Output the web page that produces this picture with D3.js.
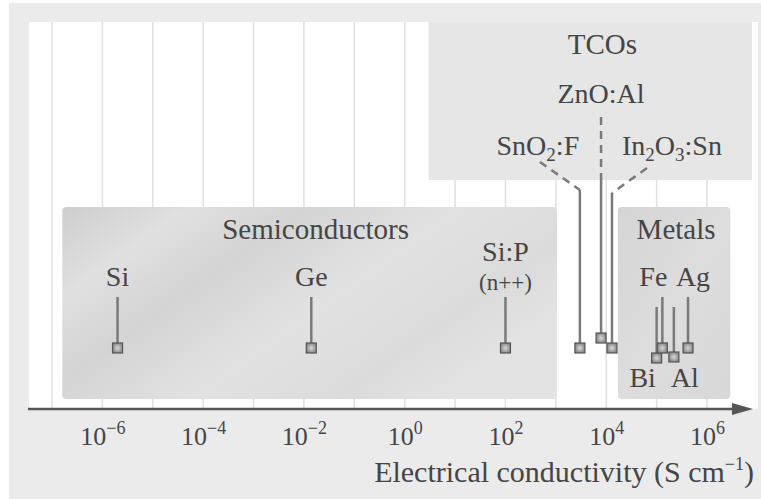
<!DOCTYPE html>
<html>
<head>
<meta charset="utf-8">
<script src="https://cdn.jsdelivr.net/npm/d3@7"></script>
<style>
  body { margin: 0; background: #fff; }
  text { font-family: "Liberation Serif", "Times New Roman", serif; fill: #454545; }
</style>
</head>
<body>
<div class="chart"></div>
<script>
////////////////////////////////// data

// materials and their conductivity (S/cm)
var materials = ["Si", "Ge", "Si:P", "SnO_2:F", "ZnO:Al", "In_2O_3:Sn", "Bi", "Fe", "Al", "Ag"];
var conductivity = [2.0e-6, 1.4e-2, 1.0e2, 3.0e3, 7.9e3, 1.3e4, 1.0e5, 1.3e5, 2.2e5, 4.2e5];

// shaded material classes, from / to conductivity
var groups = ["Semiconductors", "TCOs", "Metals"];
var groupFrom = [1.6e-7, 3.0, 1.7e4];
var groupTo = [1.05e3, 8.0e6, 2.9e6];

// axis
var tickValues = [1e-6, 1e-4, 1e-2, 1e0, 1e2, 1e4, 1e6];
var tickExponents = ["\u22126", "\u22124", "\u22122", "0", "2", "4", "6"];
var gridValues = [1e-7, 1e-6, 1e-5, 1e-4, 1e-3, 1e-2, 1e-1, 1e0, 1e1, 1e2, 1e3, 1e4, 1e5, 1e6];
var axisTitle = "Electrical conductivity (S cm";
var axisTitleExp = "\u22121";

////////////////////////////////// layout (not data)

var W = 761, H = 499;
var frame = {left: 9, top: 3};
var plot = {left: 29, top: 22, right: 758, bottom: 409};
var boxTop = {Semiconductors: 207, TCOs: 22, Metals: 207};
var boxBottom = {Semiconductors: 399, TCOs: 180, Metals: 399};
var groupLabel = {Semiconductors: {dx: 6, y: 239}, TCOs: {dx: 12, y: 54}, Metals: {dx: 2, y: 239}};

// per material: label offset, stem top, square centre, optional dashed leader
var marker = {
    "Si":         {dx: 0,   ly: 286, top: 297, base: 348},
    "Ge":         {dx: 0,   ly: 286, top: 297, base: 348},
    "Si:P":       {dx: 0,   ly: 261, top: 297, base: 348, sub: "(n++)", subY: 290},
    "SnO_2:F":    {dx: -42, ly: 155, top: 190, base: 348, lead: [-40, 162]},
    "ZnO:Al":     {dx: 0,   ly: 103, top: 180, base: 338, lead: [0, 117]},
    "In_2O_3:Sn": {dx: 60,  ly: 155, top: 193, base: 348, lead: [35, 168]},
    "Bi":         {dx: -14, ly: 387, top: 307, base: 358},
    "Fe":         {dx: -9,  ly: 286, top: 297, base: 348},
    "Al":         {dx: 11,  ly: 387, top: 307, base: 357},
    "Ag":         {dx: 5,   ly: 286, top: 297, base: 348}
};

////////////////////////////////// helpers

// writes "In_2O_3:Sn" as text with subscript tspans
function chemText(sel, label) {
    var parts = label.split(/(_\d)/).filter(function(p) { return p !== ""; });
    var shift = 0;
    parts.forEach(function(p) {
        if (p[0] === "_") {
            sel.append("tspan").attr("font-size", "0.68em").attr("dy", 6 - shift).text(p.slice(1));
            shift = 6;
        } else {
            var t = sel.append("tspan").text(p);
            if (shift) t.attr("dy", -shift);
            shift = 0;
        }
    });
}

////////////////////////////////// draw

var svg = d3.select(".chart").append("svg").attr("width", W).attr("height", H);
var defs = svg.append("defs");

var g1 = defs.append("linearGradient").attr("id", "semi")
    .attr("x1", 0).attr("y1", 0).attr("x2", 1).attr("y2", 0.55);
[[0, "#cecece"], [0.2, "#e0e0e0"], [0.38, "#d4d4d4"], [0.62, "#e2e2e2"], [0.85, "#dbdbdb"], [1, "#e3e3e3"]]
    .forEach(function(s) { g1.append("stop").attr("offset", s[0]).attr("stop-color", s[1]); });

var g2 = defs.append("linearGradient").attr("id", "metal")
    .attr("x1", 0).attr("y1", 0).attr("x2", 1).attr("y2", 1);
[[0, "#d5d5d5"], [0.5, "#dddddd"], [1, "#d8d8d8"]]
    .forEach(function(s) { g2.append("stop").attr("offset", s[0]).attr("stop-color", s[1]); });

var g3 = defs.append("radialGradient").attr("id", "sq");
[[0, "#d8d8d8"], [1, "#8a8a8a"]]
    .forEach(function(s) { g3.append("stop").attr("offset", s[0]).attr("stop-color", s[1]); });

// frame + white plot area
svg.append("rect").attr("x", frame.left).attr("y", frame.top)
    .attr("width", W - frame.left).attr("height", H - frame.top).attr("fill", "#ebebeb");
svg.append("rect").attr("x", plot.left).attr("y", plot.top)
    .attr("width", plot.right - plot.left).attr("height", plot.bottom - plot.top).attr("fill", "#fff");

var x = d3.scaleLog().domain([1e-7, 1e6]).range([52, 707]);

// grid
svg.append("g").selectAll("line").data(gridValues).enter().append("line")
    .attr("x1", function(d) { return x(d); }).attr("x2", function(d) { return x(d); })
    .attr("y1", plot.top).attr("y2", plot.bottom)
    .style("stroke", "#e0e0e0").style("stroke-width", 1.5);

// class boxes
var boxFill = {Semiconductors: "url(#semi)", TCOs: "#e6e6e6", Metals: "url(#metal)"};
svg.append("g").selectAll("rect").data(groups).enter().append("rect")
    .attr("x", function(d, i) { return x(groupFrom[i]); })
    .attr("y", function(d) { return boxTop[d]; })
    .attr("width", function(d, i) { return Math.min(x(groupTo[i]), plot.right - 6) - x(groupFrom[i]); })
    .attr("height", function(d) { return boxBottom[d] - boxTop[d]; })
    .attr("rx", function(d) { return d === "TCOs" ? 0 : 4; })
    .attr("fill", function(d) { return boxFill[d]; });

svg.append("g").selectAll("text").data(groups).enter().append("text")
    .attr("x", function(d, i) { return (x(groupFrom[i]) + Math.min(x(groupTo[i]), plot.right - 6)) / 2 + groupLabel[d].dx; })
    .attr("y", function(d) { return groupLabel[d].y; })
    .attr("text-anchor", "middle").attr("font-size", 29)
    .text(function(d) { return d; });

// dashed leaders for TCOs
var leads = materials.map(function(m, i) { return {m: m, v: conductivity[i]}; })
    .filter(function(d) { return marker[d.m].lead; });
svg.append("g").selectAll("line").data(leads).enter().append("line")
    .attr("x1", function(d) { return x(d.v) + marker[d.m].lead[0]; })
    .attr("y1", function(d) { return marker[d.m].lead[1]; })
    .attr("x2", function(d) { return x(d.v); })
    .attr("y2", function(d) { return marker[d.m].top; })
    .style("stroke", "#7a7a7a").style("stroke-width", 2.5).style("stroke-dasharray", "8,6");

// stems
var pts = materials.map(function(m, i) { return {m: m, v: conductivity[i]}; });
svg.append("g").selectAll("line").data(pts).enter().append("line")
    .attr("x1", function(d) { return x(d.v); }).attr("x2", function(d) { return x(d.v); })
    .attr("y1", function(d) { return marker[d.m].top; })
    .attr("y2", function(d) { return marker[d.m].base; })
    .style("stroke", "#7a7a7a").style("stroke-width", 2.5);

// squares
svg.append("g").selectAll("rect").data(pts).enter().append("rect")
    .attr("x", function(d) { return x(d.v) - 5; })
    .attr("y", function(d) { return marker[d.m].base - 5; })
    .attr("width", 10).attr("height", 10)
    .attr("fill", "url(#sq)").attr("stroke", "#555").attr("stroke-width", 1.2);

// material labels
svg.append("g").selectAll("text").data(pts).enter().append("text")
    .attr("x", function(d) { return x(d.v) + marker[d.m].dx; })
    .attr("y", function(d) { return marker[d.m].ly; })
    .attr("text-anchor", "middle").attr("font-size", 28)
    .each(function(d) { chemText(d3.select(this), d.m); });

svg.append("g").selectAll("text").data(pts.filter(function(d) { return marker[d.m].sub; })).enter().append("text")
    .attr("x", function(d) { return x(d.v) + marker[d.m].dx; })
    .attr("y", function(d) { return marker[d.m].subY; })
    .attr("text-anchor", "middle").attr("font-size", 23)
    .text(function(d) { return marker[d.m].sub; });

// axis
var axis = d3.axisBottom(x).tickValues(tickValues).tickSize(0).tickFormat("");
var ax = svg.append("g").attr("transform", "translate(0," + plot.bottom + ")").call(axis);
ax.select(".domain").remove();
ax.append("line").attr("x1", plot.left - 1).attr("x2", 736).attr("y1", 0).attr("y2", 0)
    .style("stroke", "#555").style("stroke-width", 2.5);
ax.append("path").attr("d", "M732,-6L753,0L732,6Z").attr("fill", "#555");

ax.selectAll(".tick text")
    .attr("y", 36).attr("dy", 0)
    .attr("fill", null).attr("font-size", 26).attr("font-family", null)
    .each(function(d, i) {
        var t = d3.select(this);
        t.append("tspan").text("10");
        t.append("tspan").attr("font-size", 18).attr("dy", -11).text(tickExponents[i]);
    });

var title = svg.append("text").attr("x", 754).attr("y", 482)
    .attr("text-anchor", "end").attr("font-size", 30);
title.append("tspan").text(axisTitle);
title.append("tspan").attr("font-size", 18).attr("dy", -12).text(axisTitleExp);
title.append("tspan").attr("dy", 12).text(")");
</script>
</body>
</html>
